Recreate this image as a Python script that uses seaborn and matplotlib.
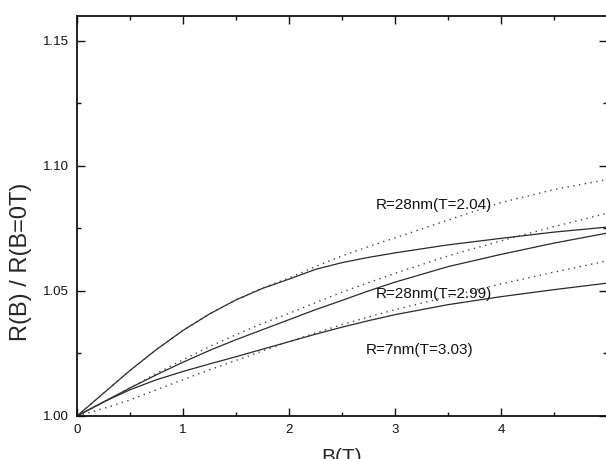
import matplotlib
matplotlib.use("Agg")
import matplotlib.pyplot as plt
import seaborn as sns
import pandas as pd
from matplotlib.ticker import MultipleLocator, FixedLocator, FormatStrFormatter

# ---- data ----
B_field = [0, 0.25, 0.5, 0.75, 1.0, 1.25, 1.5, 1.75, 2.0, 2.25, 2.5, 2.75, 3.0,
           3.5, 4.0, 4.5, 5.0]

exp_28nm_204 = [1.0, 1.0091, 1.0182, 1.0266, 1.0342, 1.0408, 1.0464, 1.0510, 1.0547,
                1.0586, 1.0613, 1.0634, 1.0652, 1.0684, 1.0710, 1.0735, 1.0755]
fit_28nm_204 = [1.0, 1.0091, 1.0182, 1.0266, 1.0342, 1.0408, 1.0464, 1.0512, 1.0552,
                1.0597, 1.0640, 1.0677, 1.0712, 1.0783, 1.0853, 1.0905, 1.0945]

exp_28nm_299 = [1.0, 1.0056, 1.0112, 1.0165, 1.0215, 1.0262, 1.0305, 1.0345, 1.0385,
                1.0425, 1.0462, 1.0500, 1.0535, 1.0597, 1.0646, 1.0691, 1.0731]
fit_28nm_299 = [1.0, 1.0056, 1.0113, 1.0170, 1.0225, 1.0277, 1.0325, 1.0370, 1.0410,
                1.0453, 1.0495, 1.0533, 1.0570, 1.0640, 1.0700, 1.0757, 1.0810]

exp_7nm_303 = [1.0, 1.0056, 1.0105, 1.0145, 1.0178, 1.0208, 1.0237, 1.0267, 1.0297,
               1.0327, 1.0355, 1.0381, 1.0405, 1.0445, 1.0477, 1.0505, 1.0531]
fit_7nm_303 = [1.0, 1.0030, 1.0064, 1.0105, 1.0145, 1.0185, 1.0222, 1.0260, 1.0297,
               1.0332, 1.0365, 1.0396, 1.0425, 1.0477, 1.0528, 1.0575, 1.0620]

labels = ["R=28nm(T=2.04)", "R=28nm(T=2.99)", "R=7nm(T=3.03)"]
label_pos = [(2.82, 1.0844), (2.82, 1.0488), (2.72, 1.0264)]

x_ticks = [0, 1, 2, 3, 4]
y_ticks = [1.00, 1.05, 1.10, 1.15]

# ---- style ----
sns.set_style("ticks")
plt.rcParams['font.family'] = ['Liberation Sans', 'DejaVu Sans']

fig = plt.figure(figsize=(6.06, 4.59), dpi=100)
ax = fig.add_axes([77 / 606, 43 / 459, 530 / 606, 400.3 / 459])

exp_series = [exp_28nm_204, exp_28nm_299, exp_7nm_303]
fit_series = [fit_28nm_204, fit_28nm_299, fit_7nm_303]

for ys in exp_series:
    df = pd.DataFrame({"B": B_field, "R": ys})
    sns.lineplot(data=df, x="B", y="R", ax=ax, color="#2a2a2a", lw=0.9,
                 estimator=None, sort=False)
for ys in fit_series:
    df = pd.DataFrame({"B": B_field, "R": ys})
    sns.lineplot(data=df, x="B", y="R", ax=ax, color="#444444", lw=1.0,
                 estimator=None, sort=False)
    ax.lines[-1].set_dashes([1, 3.2])

for txt, (tx, ty) in zip(labels, label_pos):
    ax.text(tx, ty, txt, ha="left", va="center", fontsize=11, color="#111111")

ax.set_xlim(0, 5)
ax.set_ylim(1.0, 1.16)
ax.xaxis.set_major_locator(FixedLocator(x_ticks))
ax.xaxis.set_minor_locator(MultipleLocator(0.5))
ax.yaxis.set_major_locator(FixedLocator(y_ticks))
ax.yaxis.set_minor_locator(MultipleLocator(0.025))
ax.yaxis.set_major_formatter(FormatStrFormatter("%.2f"))

ax.tick_params(which="both", direction="in", top=True, right=True,
               colors="#111111", width=1.0)
ax.tick_params(which="major", length=5.5, labelsize=9.5, pad=6)
ax.tick_params(which="minor", length=3)
for sp in ax.spines.values():
    sp.set_linewidth(1.3)
    sp.set_color("#111111")

ax.set_xlabel("B(T)", fontsize=15)
ax.set_ylabel("R(B) / R(B=0T)", fontsize=17)
ax.xaxis.set_label_coords(0.5, -0.080)
ax.yaxis.set_label_coords(-0.085, 0.386)

fig.savefig("out.png", dpi=100)
